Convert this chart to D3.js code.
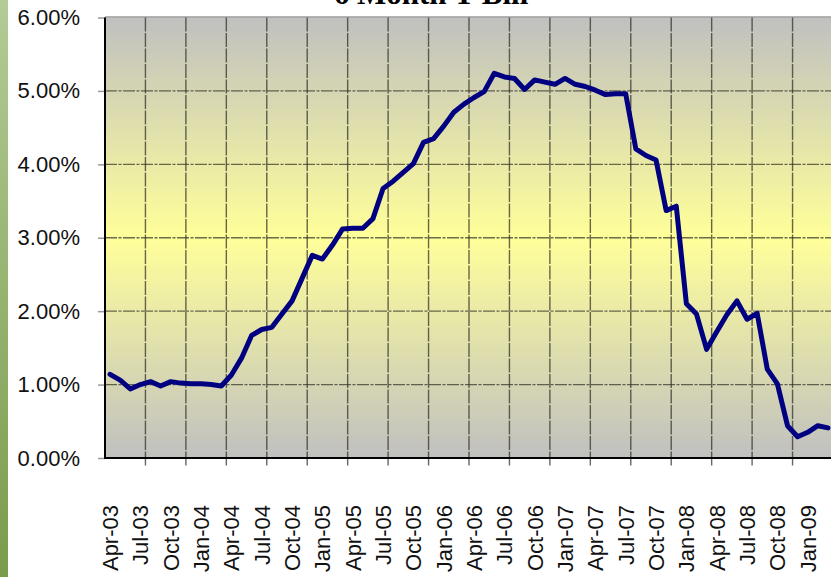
<!DOCTYPE html>
<html>
<head>
<meta charset="utf-8">
<script src="https://cdn.jsdelivr.net/npm/d3@7"></script>
<style>
  body { margin: 0; background: #fff; }
  svg { display: block; }
</style>
</head>
<body>
<div id="chart"></div>
<script>
// 6 month T-bill yield, monthly, Apr-03 .. Mar-09 (percent)
const rates = [
  1.14, 1.06, 0.94, 1.00, 1.04, 0.98, 1.04, 1.02, 1.01, 1.01, 1.00, 0.98,
  1.13, 1.36, 1.67, 1.75, 1.78, 1.96, 2.14, 2.45, 2.76, 2.71, 2.90, 3.12,
  3.13, 3.13, 3.26, 3.67, 3.77, 3.89, 4.01, 4.30, 4.35, 4.52, 4.71, 4.82,
  4.91, 4.99, 5.24, 5.19, 5.17, 5.02, 5.15, 5.12, 5.09, 5.17, 5.09, 5.06,
  5.01, 4.95, 4.96, 4.96, 4.21, 4.12, 4.06, 3.37, 3.43, 2.10, 1.96, 1.48,
  1.72, 1.95, 2.14, 1.89, 1.97, 1.21, 1.01, 0.44, 0.29, 0.35, 0.44, 0.41
];
// one label every 3 months
const tickLabels = [
  'Apr-03', 'Jul-03', 'Oct-03', 'Jan-04', 'Apr-04', 'Jul-04', 'Oct-04', 'Jan-05',
  'Apr-05', 'Jul-05', 'Oct-05', 'Jan-06', 'Apr-06', 'Jul-06', 'Oct-06', 'Jan-07',
  'Apr-07', 'Jul-07', 'Oct-07', 'Jan-08', 'Apr-08', 'Jul-08', 'Oct-08', 'Jan-09'
];
const yTicks = [0, 1, 2, 3, 4, 5, 6];
const title = '6 Month T-Bill';

const width = 831, height = 577;
const plot = { left: 105, right: 833, top: 17.5, bottom: 458 };

const svg = d3.select('#chart').append('svg')
  .attr('width', width)
  .attr('height', height);

// Gradients: green slide strip and the grey-yellow-grey plot fill
const defs = svg.append('defs');
const strip = defs.append('linearGradient')
  .attr('id', 'strip').attr('x1', 0).attr('y1', 0).attr('x2', 0).attr('y2', 1);
strip.append('stop').attr('offset', '0%').attr('stop-color', '#b3cb95');
strip.append('stop').attr('offset', '100%').attr('stop-color', '#7a9c4c');

const bg = defs.append('linearGradient')
  .attr('id', 'bg').attr('x1', 0).attr('y1', 0).attr('x2', 0).attr('y2', 1);
bg.append('stop').attr('offset', '0%').attr('stop-color', '#c0c0c0');
bg.append('stop').attr('offset', '50%').attr('stop-color', '#ffff9a');
bg.append('stop').attr('offset', '100%').attr('stop-color', '#c0c0c0');

svg.append('rect')
  .attr('x', 0).attr('y', 0).attr('width', 8).attr('height', height)
  .attr('fill', 'url(#strip)');

// Scales
const x = d3.scaleBand()
  .domain(d3.range(rates.length))
  .range([plot.left, plot.right])
  .padding(0);

const y = d3.scaleLinear()
  .domain([0, 6])
  .range([plot.bottom, plot.top]);

// Plot background
svg.append('rect')
  .attr('x', plot.left).attr('y', plot.top)
  .attr('width', width - plot.left)
  .attr('height', plot.bottom - plot.top)
  .attr('fill', 'url(#bg)');

// Top border of plot area
svg.append('line')
  .attr('x1', plot.left).attr('x2', width)
  .attr('y1', plot.top - 0.5).attr('y2', plot.top - 0.5)
  .attr('stroke', '#9a9a9a').attr('stroke-width', 1.5);

// Horizontal gridlines
svg.append('g')
  .selectAll('line')
  .data(yTicks.filter(d => d > 0 && d < 6))
  .join('line')
    .attr('x1', plot.left).attr('x2', width)
    .attr('y1', d => y(d)).attr('y2', d => y(d))
    .attr('stroke', '#2e2e22')
    .attr('stroke-opacity', 0.7)
    .attr('stroke-width', 1.4)
    .attr('stroke-dasharray', '12,1.5,3,1.5');

// Vertical gridlines every 4 months, ticks run below the axis
const gridIdx = d3.range(4, rates.length, 4);
svg.append('g')
  .selectAll('line')
  .data(gridIdx)
  .join('line')
    .attr('x1', d => x(d)).attr('x2', d => x(d))
    .attr('y1', plot.top).attr('y2', plot.bottom + 8)
    .attr('stroke', '#2e2e22')
    .attr('stroke-opacity', 0.72)
    .attr('stroke-width', 1.4)
    .attr('stroke-dasharray', '14,1.5');

// Y axis
const yAxis = svg.append('g')
  .attr('transform', `translate(${plot.left},0)`)
  .call(d3.axisLeft(y)
    .tickValues(yTicks)
    .tickFormat(d => d.toFixed(2) + '%')
    .tickSize(7)
    .tickPadding(18));
yAxis.select('.domain').remove();
yAxis.selectAll('.tick line').attr('stroke', '#999').attr('stroke-width', 1.5);
yAxis.selectAll('text')
  .attr('font-family', '"Liberation Sans", Arial, sans-serif')
  .attr('font-size', 22)
  .attr('fill', '#111');

// X labels (every 3rd month)
const labelIdx = d3.range(0, rates.length, 3);
const xAxis = svg.append('g')
  .attr('transform', `translate(0,${plot.bottom})`)
  .call(d3.axisBottom(x)
    .tickValues(labelIdx)
    .tickFormat((d, i) => tickLabels[i])
    .tickSize(0));
xAxis.select('.domain').remove();
xAxis.selectAll('text')
  .attr('font-family', '"Liberation Sans", Arial, sans-serif')
  .attr('font-size', 22)
  .attr('fill', '#111')
  .attr('text-anchor', 'end')
  .attr('transform', 'rotate(-90)')
  .attr('x', -47)
  .attr('y', 0)
  .attr('dy', '0.36em');

// Axis lines
svg.append('line')
  .attr('x1', plot.left).attr('x2', plot.left)
  .attr('y1', plot.top).attr('y2', plot.bottom + 1)
  .attr('stroke', '#000').attr('stroke-width', 2);
svg.append('line')
  .attr('x1', plot.left).attr('x2', width)
  .attr('y1', plot.bottom).attr('y2', plot.bottom)
  .attr('stroke', '#000').attr('stroke-width', 2);

// Series line
const line = d3.line()
  .x((d, i) => x(i) + x.bandwidth() / 2)
  .y(d => y(d));

svg.append('path')
  .datum(rates)
  .attr('d', line)
  .attr('fill', 'none')
  .attr('stroke', '#000080')
  .attr('stroke-width', 5)
  .attr('stroke-linejoin', 'round')
  .attr('stroke-linecap', 'round');

// Title (cut off by the top edge, as in the slide)
svg.append('text')
  .attr('x', 431)
  .attr('y', 4)
  .attr('text-anchor', 'middle')
  .attr('font-family', '"Liberation Serif", "Times New Roman", serif')
  .attr('font-weight', 'bold')
  .attr('font-size', 31)
  .attr('fill', '#000')
  .text(title);
</script>
</body>
</html>
